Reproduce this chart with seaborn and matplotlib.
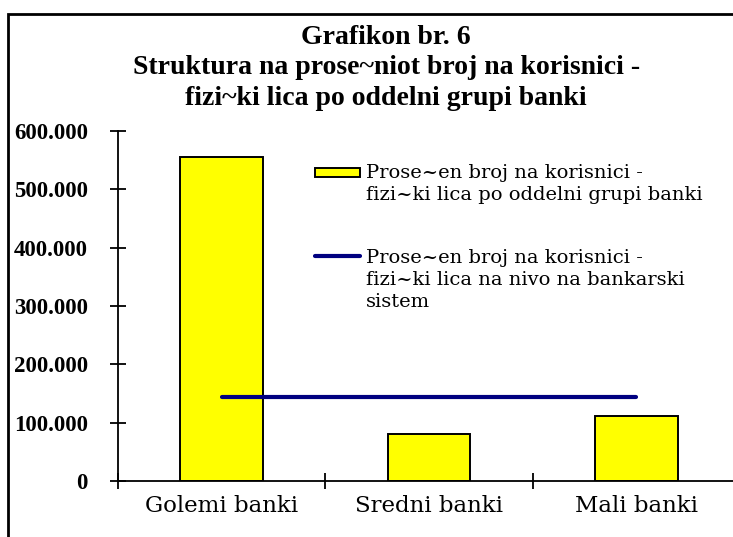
import matplotlib
matplotlib.use("Agg")
import matplotlib.pyplot as plt
import seaborn as sns
from matplotlib.patches import Patch, Rectangle
from matplotlib.lines import Line2D
from matplotlib.legend_handler import HandlerBase
from matplotlib.ticker import FuncFormatter, FixedLocator

# -----------------------------------------------------------------------------
# Podatoci
# -----------------------------------------------------------------------------
categories = ["Golemi banki", "Sredni banki", "Mali banki"]
group_avg = [555000, 81000, 112000]
system_avg = [143500, 143500, 143500]

title = "Grafikon br. 6\nStruktura na prose~niot broj na korisnici -\nfizi~ki lica po oddelni grupi banki"
label_bars = "Prose~en broj na korisnici -\nfizi~ki lica po oddelni grupi banki"
label_line = "Prose~en broj na korisnici -\nfizi~ki lica na nivo na bankarski\nsistem"


# legendata ja crta oznakata kaj prviot red od tekstot
class TopHandler(HandlerBase):
    def __init__(self, lift):
        super().__init__()
        self.lift = lift

    def create_artists(self, legend, orig_handle, xdescent, ydescent,
                       width, height, fontsize, trans):
        y = self.lift * fontsize
        if isinstance(orig_handle, Line2D):
            art = Line2D([-xdescent, width - xdescent], [y, y],
                         color=orig_handle.get_color(),
                         linewidth=orig_handle.get_linewidth(),
                         solid_capstyle="round")
        else:
            h = 0.5 * fontsize
            art = Rectangle((-xdescent, y - h / 2), width, h,
                            facecolor=orig_handle.get_facecolor(),
                            edgecolor=orig_handle.get_edgecolor(),
                            linewidth=orig_handle.get_linewidth())
        art.set_transform(trans)
        return [art]


sns.set_style("white")
plt.rcParams["font.family"] = ["Liberation Serif", "DejaVu Serif"]
plt.rcParams["text.color"] = "black"
plt.rcParams["xtick.color"] = "black"
plt.rcParams["ytick.color"] = "black"

fig = plt.figure(figsize=(7.33, 5.37), dpi=100)
ax = fig.add_axes([0.161, 0.1043, 0.8485, 0.6518])

sns.barplot(x=categories, y=group_avg, color="#FFFF00", edgecolor="black",
            linewidth=1.4, width=0.4, saturation=1, ax=ax)
sns.lineplot(x=categories, y=system_avg, sort=False, color="#000080",
             linewidth=3, ax=ax)

ax.set_ylim(0, 600000)
ax.set_xlim(-0.5, 2.5)
ax.yaxis.set_major_locator(FixedLocator(range(0, 600001, 100000)))
ax.yaxis.set_major_formatter(FuncFormatter(lambda v, p: f"{v:,.0f}".replace(",", ".")))
ax.tick_params(axis="y", direction="inout", length=11.5, width=1.3, pad=16,
               labelsize=16.5, left=True)
for t in ax.get_yticklabels():
    t.set_fontweight("bold")

ax.xaxis.set_minor_locator(FixedLocator([-0.5, 0.5, 1.5, 2.5]))
ax.tick_params(axis="x", which="major", length=0, pad=10)
ax.tick_params(axis="x", which="minor", direction="inout", length=11.5,
               width=1.3, bottom=True)
for t in ax.get_xticklabels():
    t.set_fontfamily("DejaVu Serif")
    t.set_fontsize(16.5)

for side in ["top", "right"]:
    ax.spines[side].set_visible(False)
for side in ["left", "bottom"]:
    ax.spines[side].set_linewidth(1.3)
    ax.spines[side].set_color("black")
ax.set_xlabel("")
ax.set_ylabel("")

handles = [Patch(facecolor="#FFFF00", edgecolor="black", linewidth=1.4),
           Line2D([0], [0], color="#000080", linewidth=3)]
leg = fig.legend(handles, [label_bars, label_line], loc="upper left",
                 bbox_to_anchor=(315 / 733, 1 - 164 / 537), frameon=False,
                 prop={"family": "DejaVu Serif", "size": 14},
                 handlelength=2.3, handletextpad=0.3, labelspacing=2.3,
                 borderpad=0, borderaxespad=0,
                 handler_map={Patch: TopHandler(0.96), Line2D: TopHandler(1.62)})
for t in leg.get_texts():
    t.set_linespacing(1.3)

fig.text(0.527, 1 - 68 / 537, title, ha="center", va="center", fontsize=20,
         fontweight="bold", linespacing=1.3)

fig.patches.append(Rectangle((8 / 733, -0.1), 1.2, 1 - 14 / 537 + 0.1,
                             transform=fig.transFigure, fill=False,
                             edgecolor="black", linewidth=2))

fig.savefig("out.png", dpi=100)
